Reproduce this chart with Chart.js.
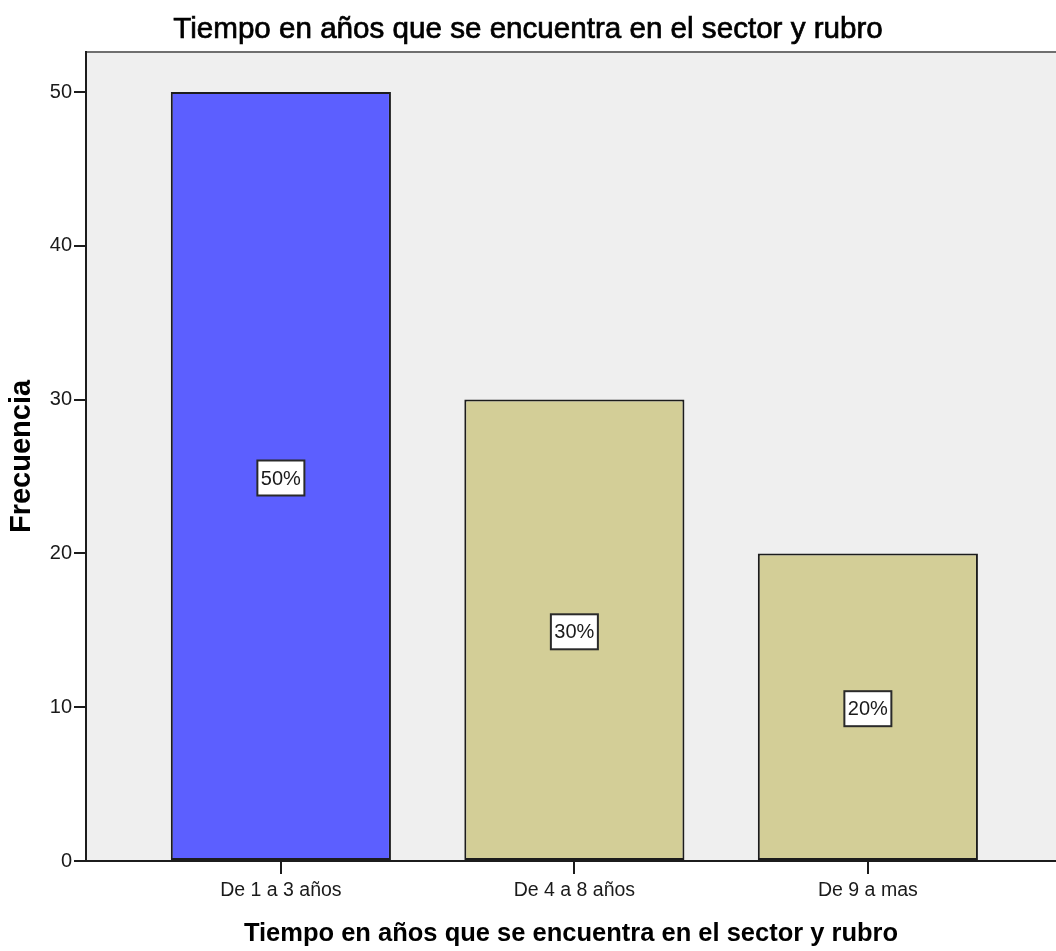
<!DOCTYPE html>
<html>
<head>
<meta charset="utf-8">
<script src="https://cdn.jsdelivr.net/npm/chart.js@4.4.1/dist/chart.umd.min.js"></script>
<style>
  html, body { margin: 0; padding: 0; background: #ffffff; overflow: hidden; }
  #wrap { width: 1056px; height: 951px; position: relative; }
</style>
</head>
<body>
<div id="wrap"><canvas id="c"></canvas></div>
<script>
const chartTitle = 'Tiempo en años que se encuentra en el sector y rubro';
const xAxisTitle = 'Tiempo en años que se encuentra en el sector y rubro';
const yAxisTitle = 'Frecuencia';
const categories = ['De 1 a 3 años', 'De 4 a 8 años', 'De 9 a mas'];
const frequencies = [50, 30, 20];
const percentLabels = ['50%', '30%', '20%'];
const yTickValues = [0, 10, 20, 30, 40, 50];
const barColors = ['#5c5fff', '#d3ce97', '#d3ce97'];

const FONT = "'Liberation Sans', Arial, sans-serif";

const plotBg = {
  id: 'plotBg',
  beforeDraw(chart) {
    const { ctx, chartArea: a } = chart;
    ctx.save();
    ctx.fillStyle = '#efefef';
    ctx.fillRect(a.left, a.top, a.right - a.left, a.bottom - a.top);
    ctx.strokeStyle = '#6f6f6f';
    ctx.lineWidth = 2;
    ctx.beginPath();
    ctx.moveTo(a.left, a.top);
    ctx.lineTo(a.right, a.top);
    ctx.stroke();
    ctx.font = '29.6px ' + FONT;
    ctx.textAlign = 'center';
    ctx.textBaseline = 'alphabetic';
    ctx.fillStyle = '#000000';
    ctx.strokeStyle = '#000000';
    ctx.lineWidth = 0.7;
    ctx.fillText(chartTitle, chart.width / 2, 38);
    ctx.strokeText(chartTitle, chart.width / 2, 38);
    ctx.restore();
  }
};

const pctLabels = {
  id: 'pctLabels',
  afterDatasetsDraw(chart) {
    const { ctx } = chart;
    const meta = chart.getDatasetMeta(0);
    ctx.save();
    ctx.font = '20px ' + FONT;
    ctx.textAlign = 'center';
    ctx.textBaseline = 'middle';
    meta.data.forEach((bar, i) => {
      const cx = bar.x;
      const cy = (bar.y + bar.base) / 2 + 2;
      const w = 47, h = 35;
      ctx.fillStyle = '#ffffff';
      ctx.fillRect(cx - w / 2, cy - h / 2, w, h);
      ctx.strokeStyle = '#2a2a2a';
      ctx.lineWidth = 2;
      ctx.strokeRect(cx - w / 2, cy - h / 2, w, h);
      ctx.fillStyle = '#1a1a1a';
      ctx.fillText(percentLabels[i], cx, cy + 1);
    });
    ctx.restore();
  }
};

new Chart(document.getElementById('c'), {
  type: 'bar',
  data: {
    datasets: [{
      data: categories.map((c, i) => ({ x: i, y: frequencies[i] })),
      backgroundColor: barColors,
      borderColor: '#1c1c1c',
      borderWidth: 2,
      borderSkipped: false,
      barPercentage: 0.75,
      categoryPercentage: 1.0
    }]
  },
  options: {
    responsive: true,
    maintainAspectRatio: false,
    animation: false,
    layout: { padding: { top: 52, left: 0, right: 0, bottom: 0 } },
    plugins: {
      legend: { display: false },
      tooltip: { enabled: false },
      title: { display: false }
    },
    scales: {
      x: {
        type: 'linear',
        offset: false,
        min: -0.664,
        max: 2.641,
        afterBuildTicks(axis) { axis.ticks = categories.map((c, i) => ({ value: i })); },
        afterFit(scale) { scale.height = 90; },
        ticks: {
          autoSkip: false,
          maxRotation: 0,
          padding: 5,
          color: '#1a1a1a',
          font: { family: FONT, size: 19.5 },
          callback: (v) => categories[v]
        },
        grid: { display: true, drawOnChartArea: false, drawTicks: true, tickLength: 13, color: '#1c1c1c', lineWidth: 2, offset: false },
        border: { display: true, color: '#1c1c1c', width: 2 },
        title: {
          display: true,
          text: xAxisTitle,
          color: '#000000',
          font: { family: FONT, size: 25.5, weight: 'bold', lineHeight: 1.2 },
          padding: { top: 0, bottom: 2 }
        }
      },
      y: {
        min: 0,
        max: 52.6,
        afterBuildTicks(axis) { axis.ticks = yTickValues.map(v => ({ value: v })); },
        afterFit(scale) { scale.width = 86; },
        ticks: {
          padding: 2,
          color: '#1a1a1a',
          font: { family: FONT, size: 20 }
        },
        grid: { display: true, drawOnChartArea: false, drawTicks: true, tickLength: 12, color: '#1c1c1c', lineWidth: 2 },
        border: { display: true, color: '#1c1c1c', width: 2 },
        title: {
          display: true,
          text: yAxisTitle,
          color: '#000000',
          font: { family: FONT, size: 29, weight: 'bold', lineHeight: 1.2 },
          padding: { top: 5, bottom: 0 }
        }
      }
    }
  },
  plugins: [plotBg, pctLabels]
});
</script>
</body>
</html>
